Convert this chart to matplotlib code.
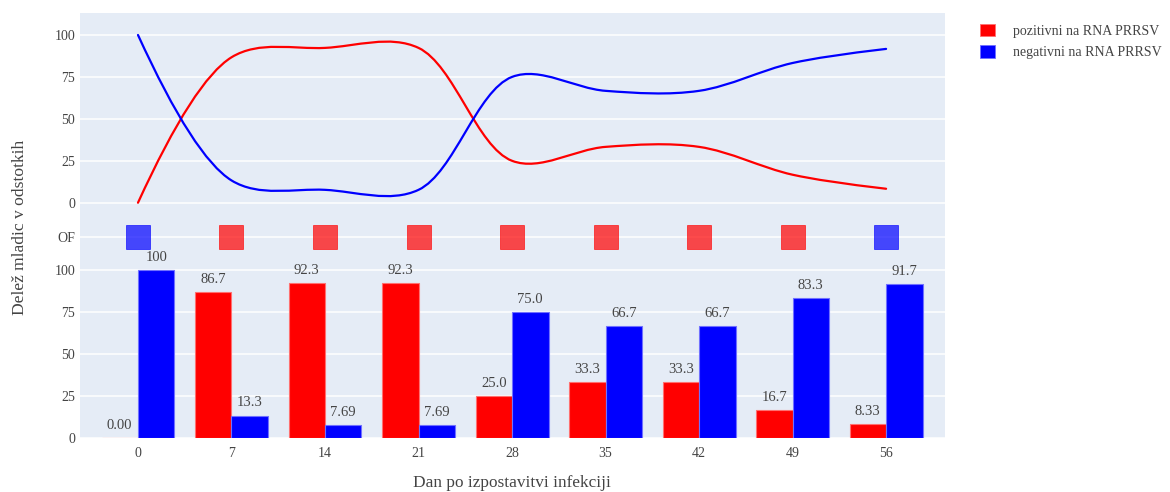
import numpy as np
import matplotlib
matplotlib.use("Agg")
import matplotlib.pyplot as plt
from matplotlib.path import Path
from matplotlib.patches import PathPatch, Patch

# Days after exposure and share of gilts (in %) per RNA PRRSV result
days = [0, 7, 14, 21, 28, 35, 42, 49, 56]
pozitivni = [0.0, 86.7, 92.3, 92.3, 25.0, 33.3, 33.3, 16.7, 8.33]
negativni = [100.0, 13.3, 7.69, 7.69, 75.0, 66.7, 66.7, 83.3, 91.7]
# oral fluid (OF) result per day
of_rezultat = ["neg", "poz", "poz", "poz", "poz", "poz", "poz", "poz", "neg"]

y_ticks = [0, 25, 50, 75, 100]
legend_labels = ["pozitivni na RNA PRRSV", "negativni na RNA PRRSV"]
y_title = "Delež mladic v odstotkih"
x_title = "Dan po izpostavitvi infekciji"

RED = "#ff0000"
BLUE = "#0000ff"
BG = "#e5ecf6"
TXT = "#444444"

plt.rcParams["font.family"] = ["Liberation Serif", "DejaVu Serif"]

W, H = 1170, 492
fig = plt.figure(figsize=(W / 100, H / 100), dpi=100)


def box(x0, y0, x1, y1):
    """Pixel box (top-left origin) -> figure rect."""
    return [x0 / W, 1 - y1 / H, (x1 - x0) / W, (y1 - y0) / H]


ax_top = fig.add_axes(box(80, 13, 945, 218))
ax_mid = fig.add_axes(box(80, 218, 945, 256))
ax_bot = fig.add_axes(box(80, 256, 945, 438))

x = np.arange(len(days))
xlim = (-0.62, len(days) - 1 + 0.63)

for ax in (ax_top, ax_mid, ax_bot):
    ax.set_facecolor(BG)
    for s in ax.spines.values():
        s.set_visible(False)
    ax.set_xlim(*xlim)
    ax.set_axisbelow(True)
    ax.grid(axis="y", color="white", linewidth=1.1)
    ax.tick_params(axis="both", length=0, colors=TXT, labelsize=10, pad=3.5)
    ax.set_xticks(x)

ax_top.set_xticklabels([])
ax_mid.set_xticklabels([])
ax_bot.set_xticklabels([str(d) for d in days])
ax_bot.tick_params(axis="x", pad=6.5)

ax_top.set_ylim(-9.1, 113.1)
ax_top.set_yticks(y_ticks)
ax_bot.set_ylim(0, 108.3)
ax_bot.set_yticks(y_ticks)
ax_mid.set_ylim(-1, 1)
ax_mid.set_yticks([0])
ax_mid.set_yticklabels(["OF"])


def smooth_line(ax, xs, ys, smoothing=1.0, **kw):
    """Catmull-Rom style spline computed in pixel space."""
    pts = ax.transData.transform(np.column_stack([xs, ys]))
    n = len(pts)
    tangents = []
    for i in range(1, n - 1):
        p, c, q = pts[i - 1], pts[i], pts[i + 1]
        d1 = p - c
        d2 = q - c
        d1a = (d1 @ d1) ** 0.25
        d2a = (d2 @ d2) ** 0.25
        num = (d2a * d2a * d1 - d1a * d1a * d2) * smoothing
        den1 = 3 * d2a * (d1a + d2a)
        den2 = 3 * d1a * (d1a + d2a)
        tangents.append((c + num / den1, c - num / den2))
    verts = [pts[0], tangents[0][0], pts[1]]
    codes = [Path.MOVETO, Path.CURVE3, Path.CURVE3]
    for i in range(2, n - 1):
        verts += [tangents[i - 2][1], tangents[i - 1][0], pts[i]]
        codes += [Path.CURVE4] * 3
    verts += [tangents[n - 3][1], pts[n - 1]]
    codes += [Path.CURVE3] * 2
    data_verts = ax.transData.inverted().transform(np.array(verts))
    ax.add_patch(PathPatch(Path(data_verts, codes), fill=False, **kw))


smooth_line(ax_top, x, pozitivni, edgecolor=RED, linewidth=1.6, capstyle="round")
smooth_line(ax_top, x, negativni, edgecolor=BLUE, linewidth=1.6, capstyle="round")

# OF markers
of_colors = {"poz": RED, "neg": BLUE}
for xi, r in zip(x, of_rezultat):
    ax_mid.plot(xi, 0, marker="s", markersize=16.6, color=of_colors[r], alpha=0.7,
                markeredgecolor=of_colors[r], markeredgewidth=0.6, linestyle="none")

# grouped bars
bw = 0.39
off = 0.195
b1 = ax_bot.bar(x - off, pozitivni, width=bw, color=RED, edgecolor="#ff7070", linewidth=0.8)
b2 = ax_bot.bar(x + off, negativni, width=bw, color=BLUE, edgecolor="#7070ff", linewidth=0.8)


def fmt3(v):
    return f"{v:#.3g}".rstrip(".")


for bars, vals in ((b1, pozitivni), (b2, negativni)):
    for rect, v in zip(bars, vals):
        ax_bot.annotate(fmt3(v), (rect.get_x() + rect.get_width() / 2, v),
                        xytext=(0, 9.2), textcoords="offset points",
                        ha="center", va="center", fontsize=10.5, color=TXT,
                        annotation_clip=False)

fig.text(20 / W, 1 - 227 / H, y_title, rotation=90, ha="center", va="center",
         fontsize=12.6, color=TXT)
fig.text(512 / W, 1 - 483 / H, x_title, ha="center", va="center",
         fontsize=12.4, color=TXT)

handles = [Patch(facecolor=RED, edgecolor="#ff7070", linewidth=0.6),
           Patch(facecolor=BLUE, edgecolor="#7070ff", linewidth=0.6)]
fig.legend(handles, legend_labels, loc="upper left",
           bbox_to_anchor=(974 / W, 1 - 18 / H), frameon=False,
           fontsize=10, handlelength=1.1, handleheight=1.0,
           handletextpad=1.3, labelspacing=0.55, borderaxespad=0,
           labelcolor=TXT)

fig.savefig("out.png", dpi=100, facecolor="white")
